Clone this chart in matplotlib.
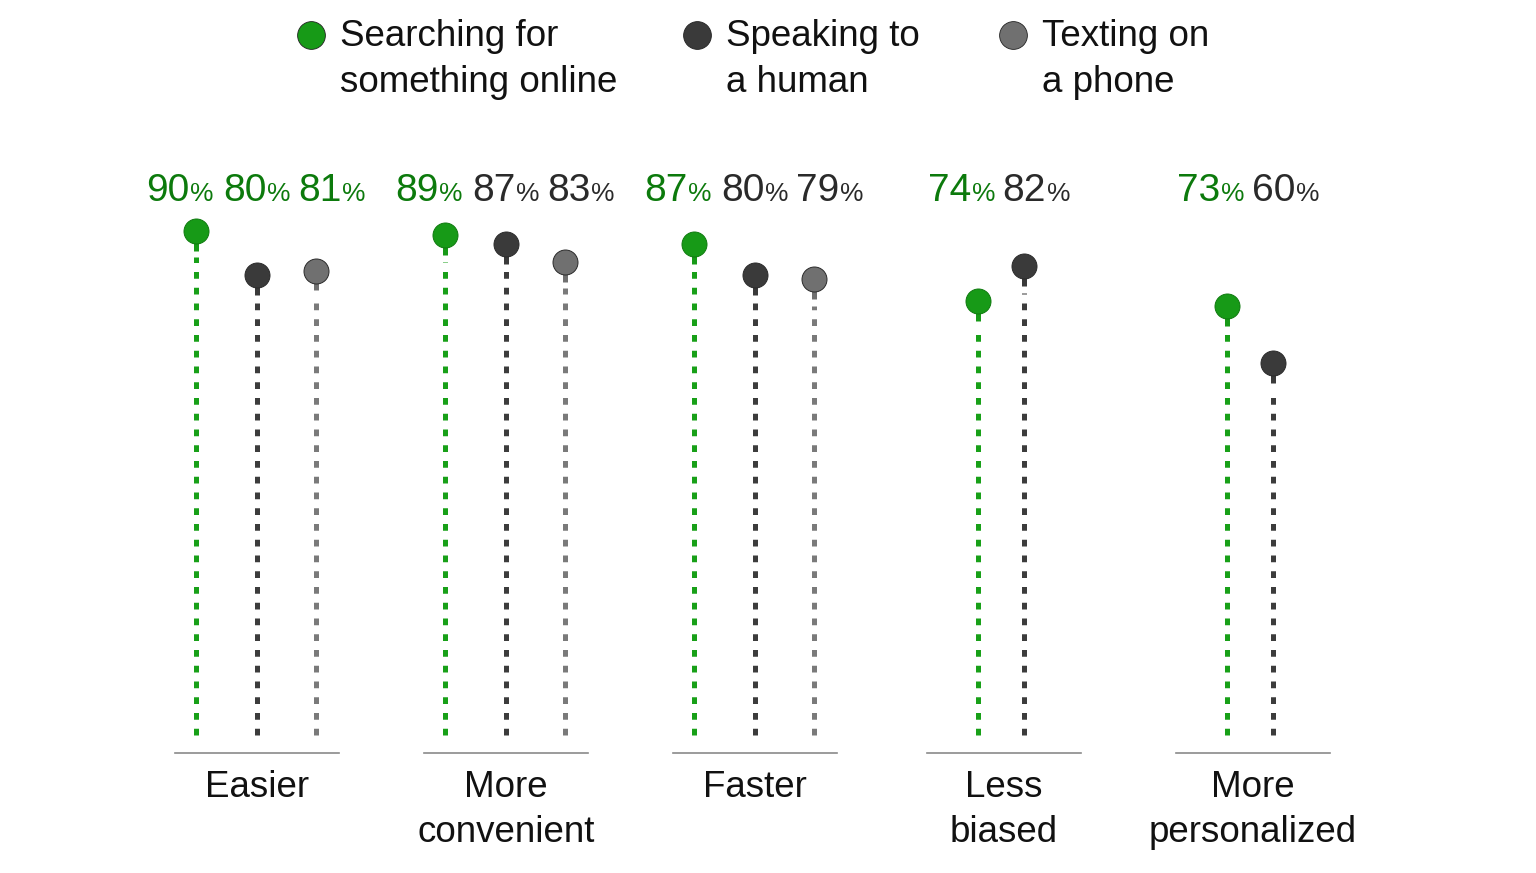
import matplotlib
matplotlib.use('Agg')
import matplotlib.pyplot as plt
from matplotlib import font_manager
from matplotlib.transforms import blended_transform_factory

# data
categories = ['Easier', 'More\nconvenient', 'Faster', 'Less\nbiased', 'More\npersonalized']
series = ['Searching for\nsomething online', 'Speaking to\na human', 'Texting on\na phone']
searching = [90, 89, 87, 74, 73]
speaking = [80, 87, 80, 82, 60]
texting = [81, 83, 79, None, None]

GREEN = '#179a17'
GREEN_TXT = '#0c7a0c'
DARK = '#3a3a3a'
GRAY = '#707070'
marker_cols = [GREEN, DARK, GRAY]
stem_cols = ['#18a018', '#3c3c3c', '#7a7a7a']
# label colour per group (first group is all green)
label_cols = [[GREEN_TXT, GREEN_TXT, GREEN_TXT],
              [GREEN_TXT, '#2a2a2a', '#2a2a2a'],
              [GREEN_TXT, '#2a2a2a', '#2a2a2a'],
              [GREEN_TXT, '#2a2a2a'],
              [GREEN_TXT, '#2a2a2a']]

names = {f.name for f in font_manager.fontManager.ttflist}
narrow = 'Liberation Sans Narrow' if 'Liberation Sans Narrow' in names else 'Liberation Sans'

W, H = 1536, 873
fig = plt.figure(figsize=(W / 100, H / 100), dpi=100)
ax = fig.add_axes([0, 0, 1, 1])
ax.set_xlim(-257 / 249, (W - 257) / 249)
px = lambda y: (627 - y) / 4.4  # pixel row -> data value
ax.set_ylim(px(H), px(0))
ax.axis('off')
yfrac = lambda y: 1 - y / H
tr = blended_transform_factory(ax.transData, ax.transAxes)

stem_bottom = px(735)
for i, cat in enumerate(categories):
    vals = [searching[i], speaking[i], texting[i]]
    vals = [v for v in vals if v is not None]
    n = len(vals)
    if n == 3:
        offs, loffs = [-0.245, 0.0, 0.235], [-0.31, 0.0, 0.30]
    else:
        offs, loffs = [-0.105, 0.08], [-0.17, 0.13]
    for j, v in enumerate(vals):
        x = i + offs[j]
        ax.plot([x, x], [stem_bottom, v - 6], color=stem_cols[j], lw=3.6,
                linestyle=(0, (1.35, 1.8)), dash_capstyle='butt', zorder=2)
        ax.plot([x, x], [v - 4.5, v], color=marker_cols[j], lw=3.6, zorder=2,
                solid_capstyle='butt')
        ax.plot(x, v, 'o', ms=18, color=marker_cols[j], mec='#2a2a2a' if j else '#0f7a0f',
                mew=0.7, zorder=3)
        lx = i + loffs[j]
        ax.annotate(f'{v}', (lx, px(201)), xytext=(7, 0), textcoords='offset points',
                    ha='right', va='baseline', fontsize=28, color=label_cols[i][j],
                    family='Liberation Sans')
        ax.annotate('%', (lx, px(201)), xytext=(7.5, 0), textcoords='offset points',
                    ha='left', va='baseline', fontsize=19, color=label_cols[i][j],
                    family='Liberation Sans')
    half = 0.33 if n == 3 else 0.31
    ax.plot([i - half, i + half], [px(753), px(753)], color='#8a8a8a', lw=1.2)
    ax.text(i, yfrac(770), cat, transform=tr, ha='center', va='top', fontsize=26.5,
            color='#111111', family='Liberation Sans', linespacing=1.38)

# legend
leg_x = [311, 697, 1013]
for k, lab in enumerate(series):
    fig.lines.append(plt.Line2D([leg_x[k] / W], [yfrac(35)], marker='o', ms=20,
                                color=marker_cols[k], mec='#222222', mew=0.6,
                                transform=fig.transFigure))
    fig.text((leg_x[k] + 29) / W, yfrac(19), lab, ha='left', va='top', fontsize=26.5,
             color='#111111', family=narrow, linespacing=1.42)

fig.savefig('out.png', dpi=100, facecolor='white')
